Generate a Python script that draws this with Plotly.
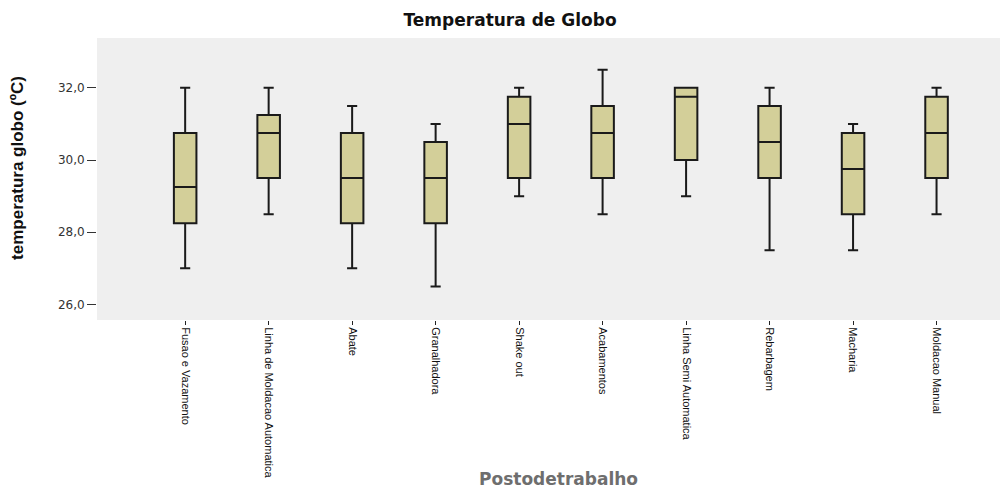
import plotly.graph_objects as go

# Work stations (categories) and the five-number summary of globe temperature for each
postos = [
    "Fusao e Vazamento",
    "Linha de Moldacao Automatica",
    "Abate",
    "Granalhadora",
    "Shake out",
    "Acabamentos",
    "Linha Semi Automatica",
    "Rebarbagem",
    "Macharia",
    "Moldacao Manual",
]
minimo = [27.0, 28.5, 27.0, 26.5, 29.0, 28.5, 29.0, 27.5, 27.5, 28.5]
q1 = [28.25, 29.5, 28.25, 28.25, 29.5, 29.5, 30.0, 29.5, 28.5, 29.5]
mediana = [29.25, 30.75, 29.5, 29.5, 31.0, 30.75, 31.75, 30.5, 29.75, 30.75]
q3 = [30.75, 31.25, 30.75, 30.5, 31.75, 31.5, 32.0, 31.5, 30.75, 31.75]
maximo = [32.0, 32.0, 31.5, 31.0, 32.0, 32.5, 32.0, 32.0, 31.0, 32.0]

y_ticks = [26.0, 28.0, 30.0, 32.0]

fig = go.Figure(
    go.Box(
        x=postos,
        lowerfence=minimo,
        q1=q1,
        median=mediana,
        q3=q3,
        upperfence=maximo,
        width=0.27,
        whiskerwidth=0.45,
        fillcolor="#d3cf99",
        line=dict(color="#1a1a1a", width=2),
        boxpoints=False,
        showlegend=False,
    )
)

fig.update_layout(
    width=1006,
    height=490,
    margin=dict(l=97, r=6, t=38, b=170, autoexpand=False),
    paper_bgcolor="#ffffff",
    plot_bgcolor="#efefef",
    separators=",.",
    title=dict(
        text="Temperatura de Globo",
        x=0.507,
        xanchor="center",
        y=0.96,
        yanchor="middle",
        font=dict(family="DejaVu Sans", size=17, color="#111111", weight="bold"),
    ),
    xaxis=dict(
        type="category",
        range=[-1.056, 9.76],
        automargin=False,
        showgrid=False,
        zeroline=False,
        showline=False,
        ticks="outside",
        ticklen=4,
        tickwidth=1,
        tickcolor="#222222",
        tickangle=90,
        tickfont=dict(family="Liberation Sans Narrow, Arial Narrow, Liberation Sans", size=11, color="#111111"),
    ),
    yaxis=dict(
        range=[25.57, 33.38],
        automargin=False,
        tickvals=y_ticks,
        tickformat=".1f",
        showgrid=False,
        zeroline=False,
        showline=False,
        ticks="outside",
        ticklen=9,
        tickwidth=1,
        tickcolor="#333333",
        tickfont=dict(family="DejaVu Sans", size=12, color="#333333"),
    ),
    annotations=[
        dict(
            text="temperatura globo (ºC)",
            xref="paper",
            yref="paper",
            x=-0.1,
            y=0.54,
            textangle=-90,
            showarrow=False,
            font=dict(family="Liberation Sans Narrow, Arial Narrow, Liberation Sans", size=17, color="#111111", weight="bold"),
        ),
        dict(
            text="Postodetrabalho",
            xref="paper",
            yref="paper",
            x=0.5115,
            y=-0.565,
            xanchor="center",
            yanchor="middle",
            showarrow=False,
            font=dict(family="DejaVu Sans", size=17, color="#6e6e6e", weight="bold"),
        ),
    ],
)

fig.write_html("out.html")
